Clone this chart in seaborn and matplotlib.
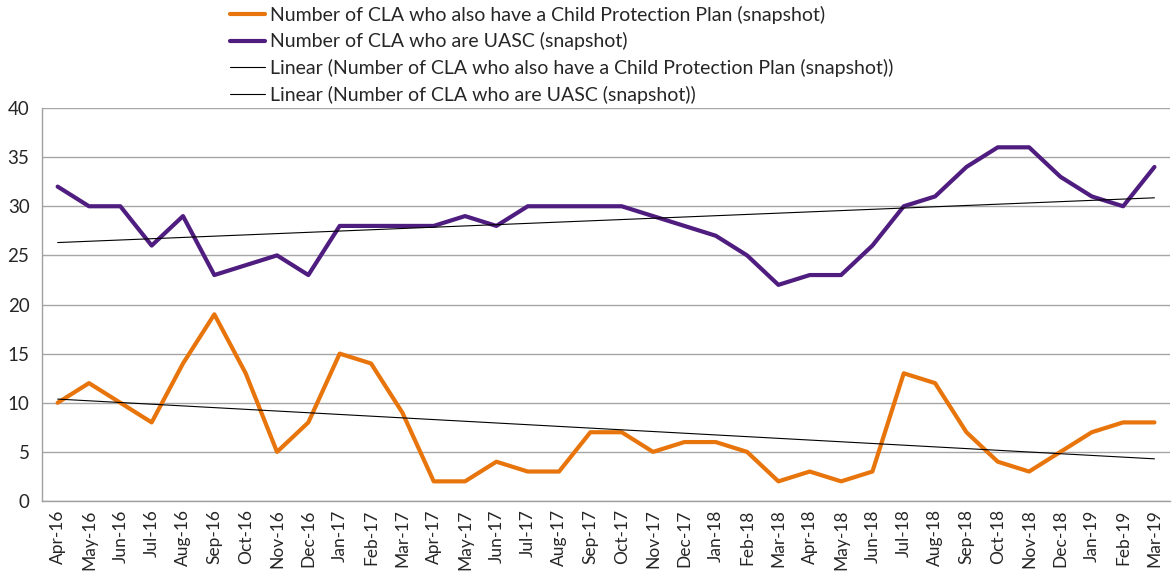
import numpy as np
import pandas as pd
import matplotlib
matplotlib.use('Agg')
import matplotlib.pyplot as plt
import seaborn as sns

# monthly snapshot data, Apr-16 .. Mar-19
months = ['Apr-16', 'May-16', 'Jun-16', 'Jul-16', 'Aug-16', 'Sep-16', 'Oct-16', 'Nov-16', 'Dec-16',
          'Jan-17', 'Feb-17', 'Mar-17', 'Apr-17', 'May-17', 'Jun-17', 'Jul-17', 'Aug-17', 'Sep-17',
          'Oct-17', 'Nov-17', 'Dec-17', 'Jan-18', 'Feb-18', 'Mar-18', 'Apr-18', 'May-18', 'Jun-18',
          'Jul-18', 'Aug-18', 'Sep-18', 'Oct-18', 'Nov-18', 'Dec-18', 'Jan-19', 'Feb-19', 'Mar-19']
cpp = [10, 12, 10, 8, 14, 19, 13, 5, 8, 15, 14, 9, 2, 2, 4, 3, 3, 7,
       7, 5, 6, 6, 5, 2, 3, 2, 3, 13, 12, 7, 4, 3, 5, 7, 8, 8]
uasc = [32, 30, 30, 26, 29, 23, 24, 25, 23, 28, 28, 28, 28, 29, 28, 30, 30, 30,
        30, 29, 28, 27, 25, 22, 23, 23, 26, 30, 31, 34, 36, 36, 33, 31, 30, 34]

lbl_cpp = 'Number of CLA who also have a Child Protection Plan (snapshot)'
lbl_uasc = 'Number of CLA who are UASC (snapshot)'

df = pd.DataFrame({'idx': np.arange(len(months)), 'month': months, 'cpp': cpp, 'uasc': uasc})

sns.set_style('white')
plt.rcParams['font.family'] = ['Lato', 'DejaVu Sans']

fig = plt.figure(figsize=(11.76, 5.77), dpi=100)
ax = fig.add_axes([0.0357, 0.1317, 0.9593, 0.6811])

orange = '#E8740C'
purple = '#4F1C7F'

sns.lineplot(data=df, x='idx', y='cpp', ax=ax, color=orange, lw=3, label=lbl_cpp)
sns.lineplot(data=df, x='idx', y='uasc', ax=ax, color=purple, lw=3, label=lbl_uasc)
# linear trendlines (least squares, like Excel)
sns.regplot(data=df, x='idx', y='cpp', ax=ax, scatter=False, ci=None, truncate=True,
            line_kws={'color': 'black', 'lw': 0.8},
            label='Linear (Number of CLA who also have a Child Protection Plan (snapshot))')
sns.regplot(data=df, x='idx', y='uasc', ax=ax, scatter=False, ci=None, truncate=True,
            line_kws={'color': 'black', 'lw': 0.8},
            label='Linear (Number of CLA who are UASC (snapshot))')

ax.set_xlim(-0.5, len(months) - 0.5)
ax.set_ylim(0, 40)
ax.set_yticks(range(0, 41, 5))
ax.set_xticks(df['idx'])
ax.set_xticklabels(months, rotation=90)
ax.set_xticks(np.arange(-0.5, len(months), 1), minor=True)
ax.tick_params(axis='x', which='major', length=0, pad=6, labelsize=12.5)
ax.tick_params(axis='x', which='minor', length=6, color='#A0A0A0', width=1)
ax.tick_params(axis='y', length=5, color='#A0A0A0', labelsize=13.5, pad=4)
ax.set_xlabel('')
ax.set_ylabel('')
ax.grid(axis='y', color='#A6A6A6', lw=1)
ax.set_axisbelow(True)
for s in ['top', 'right']:
    ax.spines[s].set_visible(False)
for s in ['left', 'bottom']:
    ax.spines[s].set_color('#A0A0A0')
    ax.spines[s].set_linewidth(1)

handles, labels = ax.get_legend_handles_labels()
ax.get_legend().remove()
fig.legend(handles, labels, loc='upper left', bbox_to_anchor=(0.1956, 0.990), frameon=False,
           fontsize=14, handlelength=1.8, handletextpad=0.26, labelspacing=0.44,
           borderpad=0, borderaxespad=0)

fig.savefig('out.png', dpi=100)
